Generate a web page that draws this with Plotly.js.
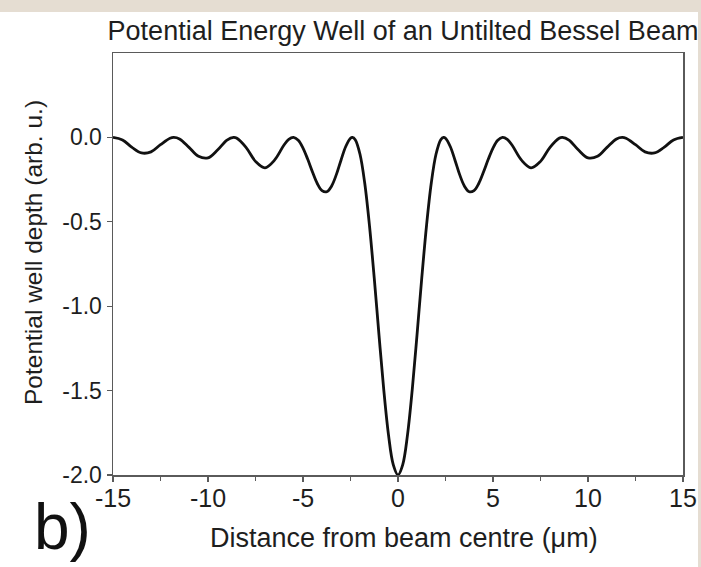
<!DOCTYPE html>
<html>
<head>
<meta charset="utf-8">
<script src="https://cdn.plot.ly/plotly-3.0.1.min.js"></script>
<style>
  html, body { margin: 0; padding: 0; background: #ffffff; }
  #chart { width: 701px; height: 567px; }
  .strip { position: absolute; background: #e5ddd2; z-index: 10; }
</style>
</head>
<body>
<div id="chart"></div>
<div class="strip" style="left:0;top:0;width:701px;height:12px;"></div>
<div class="strip" style="left:698px;top:0;width:3px;height:567px;"></div>
<script>
// Distance from beam centre (µm) and potential well depth (arb. u.)
const distance = [
  -15, -14.5, -14, -13.5, -13, -12.5, -12, -11.8, -11.5, -11, -10.5, -10, -9.5, -9, -8.65, -8.5, -8, -7.5, -7, -6.5, -6,
  -5.75, -5.5, -5.25, -5, -4.75, -4.5, -4.25, -4, -3.75, -3.5, -3.25, -3, -2.75, -2.5, -2.4, -2.25, -2, -1.75, -1.5,
  -1.25, -1, -0.75, -0.5, -0.25, 0,
  0.25, 0.5, 0.75, 1, 1.25, 1.5, 1.75, 2, 2.25, 2.4, 2.5, 2.75, 3, 3.25, 3.5, 3.75, 4, 4.25, 4.5, 4.75, 5, 5.25,
  5.5, 5.75, 6, 6.5, 7, 7.5, 8, 8.5, 8.65, 9, 9.5, 10, 10.5, 11, 11.5, 11.8, 12, 12.5, 13, 13.5, 14, 14.5, 15
];
const depth = [
  0, -0.015, -0.059, -0.092, -0.086, -0.043, -0.005, 0, -0.009, -0.059, -0.112, -0.121, -0.075, -0.016, 0, -0.004, -0.059, -0.142, -0.180, -0.135, -0.045,
  -0.011, 0, -0.017, -0.063, -0.130, -0.205, -0.273, -0.315, -0.322, -0.289, -0.222, -0.135, -0.054, -0.005, 0, -0.014, -0.100, -0.272, -0.524,
  -0.834, -1.171, -1.494, -1.762, -1.938, -2.0,
  -1.938, -1.762, -1.494, -1.171, -0.834, -0.524, -0.272, -0.100, -0.014, 0, -0.005, -0.054, -0.135, -0.222, -0.289, -0.322, -0.315, -0.273, -0.205, -0.130, -0.063, -0.017,
  0, -0.011, -0.045, -0.135, -0.180, -0.142, -0.059, -0.004, 0, -0.016, -0.075, -0.121, -0.112, -0.059, -0.009, 0, -0.005, -0.043, -0.086, -0.092, -0.059, -0.015, 0
];
const xTickVals = [-15, -10, -5, 0, 5, 10, 15];
const xTickText = ["-15", "-10", "-5", "0", "5", "10", "15"];
const yTickVals = [0, -0.5, -1, -1.5, -2];
const yTickText = ["0.0", "-0.5", "-1.0", "-1.5", "-2.0"];

const font = "'Liberation Sans', Arial, sans-serif";
const axisColor = "#5a5a5a";
const textColor = "#1e1e1e";

// plot area in pixels (for placing outside texts)
const L = 113, R = 683, T = 53, B = 475;
const px = v => (v - L) / (R - L);
const py = v => (B - v) / (B - T);

const trace = {
  x: distance,
  y: depth,
  type: "scatter",
  mode: "lines",
  line: { color: "#111111", width: 2.8, shape: "spline", smoothing: 1 },
  hoverinfo: "skip"
};

const layout = {
  width: 701,
  height: 567,
  margin: { l: L, r: 701 - R, t: T, b: 567 - B },
  paper_bgcolor: "#ffffff",
  plot_bgcolor: "#ffffff",
  showlegend: false,
  font: { family: font, color: textColor },
  title: {
    text: "Potential Energy Well of an Untilted Bessel Beam",
    font: { family: font, size: 27, color: textColor },
    x: px(403), xanchor: "center", xref: "paper",
    y: 1 - 31 / 567, yanchor: "middle", yref: "container"
  },
  xaxis: {
    range: [-15, 15],
    tickmode: "array", tickvals: xTickVals, ticktext: xTickText,
    ticks: "outside", ticklen: 5, tickwidth: 1.3, tickcolor: axisColor,
    minor: { dtick: 2.5, ticks: "outside", ticklen: 4, tickwidth: 1.3, tickcolor: axisColor, showgrid: false },
    showline: true, linecolor: axisColor, linewidth: 1.5, mirror: true,
    showgrid: false, zeroline: false,
    tickfont: { family: font, size: 25, color: textColor },
    ticklabelstandoff: -5
  },
  yaxis: {
    range: [-2, 0.5],
    tickmode: "array", tickvals: yTickVals, ticktext: yTickText,
    ticks: "outside", ticklen: 5, tickwidth: 1.3, tickcolor: axisColor,
    showline: true, linecolor: axisColor, linewidth: 1.5, mirror: true,
    showgrid: false, zeroline: false,
    tickfont: { family: font, size: 23, color: textColor }
  },
  annotations: [
    {
      text: "Distance from beam centre (μm)", showarrow: false,
      xref: "paper", yref: "paper", x: px(404), y: py(538),
      xanchor: "center", yanchor: "middle",
      font: { family: font, size: 27, color: textColor }
    },
    {
      text: "Potential well depth (arb. u.)", showarrow: false, textangle: -90,
      xref: "paper", yref: "paper", x: px(33), y: py(253),
      xanchor: "center", yanchor: "middle",
      font: { family: font, size: 24.5, color: textColor }
    },
    {
      text: "b)", showarrow: false,
      xref: "paper", yref: "paper",
      x: px(62), y: py(527),
      xanchor: "center", yanchor: "middle",
      font: { family: font, size: 64, color: "#111111" }
    }
  ]
};

Plotly.newPlot("chart", [trace], layout, { displayModeBar: false, staticPlot: true });
</script>
</body>
</html>
